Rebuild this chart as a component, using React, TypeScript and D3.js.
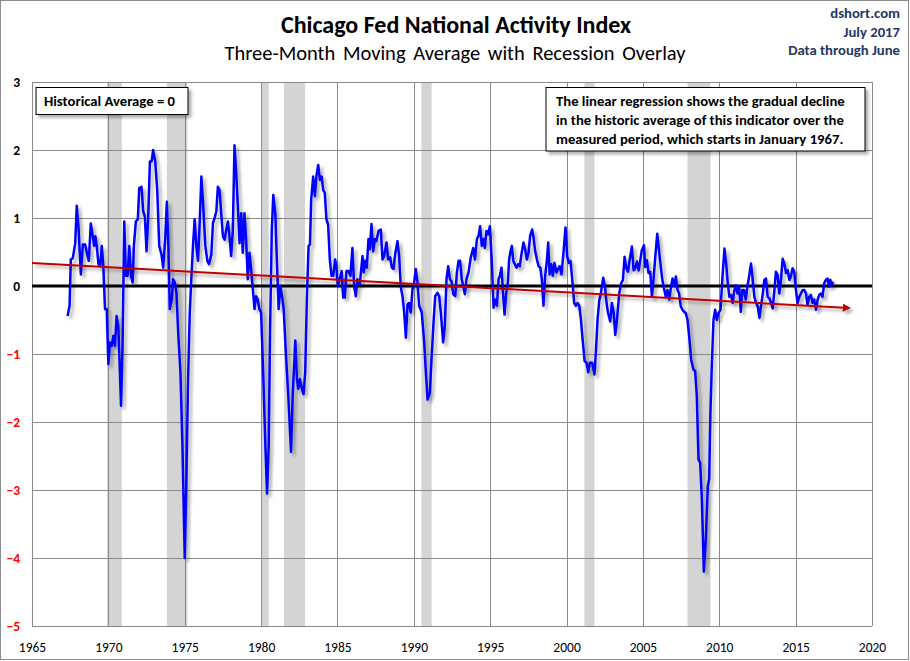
import * as d3 from "d3";
import { useEffect, useRef } from "react";

// [decimal year, 3-month moving average]
const cfnai1967to1984: [number, number][] = [
  [1967.33, -0.44], [1967.46, -0.29], [1967.54, 0.39], [1967.67, 0.41], [1967.83, 0.63],
  [1967.93, 1.18], [1968.04, 0.88], [1968.2, 0.17], [1968.33, 0.61], [1968.48, 0.61],
  [1968.59, 0.49], [1968.72, 0.37], [1968.85, 0.92], [1968.98, 0.73], [1969.07, 0.59],
  [1969.15, 0.73], [1969.24, 0.59], [1969.35, 0.32], [1969.46, 0.29], [1969.57, 0.59],
  [1969.67, 0.29], [1969.78, -0.34], [1969.89, -0.34], [1970.0, -1.15], [1970.11, -0.83],
  [1970.22, -0.88], [1970.33, -0.73], [1970.43, -0.88], [1970.54, -0.44], [1970.65, -0.59],
  [1970.72, -1.02], [1970.83, -1.76], [1970.93, -0.88], [1971.04, 0.95], [1971.15, 0.15],
  [1971.26, 0.15], [1971.37, 0.59], [1971.48, 0.15], [1971.59, 0.05], [1971.67, 0.59],
  [1971.8, 0.95], [1971.93, 0.98], [1972.02, 1.44], [1972.17, 1.46], [1972.28, 1.1],
  [1972.39, 1.02], [1972.5, 0.51], [1972.61, 1.02], [1972.72, 1.83], [1972.83, 1.83],
  [1972.93, 2.0], [1973.07, 1.83], [1973.2, 1.41], [1973.33, 0.59], [1973.48, 0.46],
  [1973.59, 0.27], [1973.72, 0.68], [1973.83, 1.24], [1973.93, 0.59], [1974.02, -0.34],
  [1974.15, -0.2], [1974.24, 0.1], [1974.35, 0.05], [1974.46, -0.1], [1974.57, -0.68],
  [1974.72, -1.27], [1974.85, -2.34], [1975.0, -4.0], [1975.11, -2.83], [1975.22, -1.37],
  [1975.33, -0.39], [1975.43, 0.1], [1975.54, 0.59], [1975.65, 0.98], [1975.76, 0.59],
  [1975.87, 0.37], [1975.98, 0.93], [1976.09, 1.61], [1976.2, 1.22], [1976.35, 0.59],
  [1976.48, 0.37], [1976.59, 0.32], [1976.74, 0.46], [1976.85, 0.93], [1976.96, 1.0],
  [1977.07, 1.1], [1977.17, 1.46], [1977.28, 1.41], [1977.39, 1.07], [1977.5, 0.73],
  [1977.61, 0.68], [1977.72, 0.83], [1977.83, 0.95], [1977.93, 0.73], [1978.04, 0.44],
  [1978.15, 0.83], [1978.26, 2.07], [1978.37, 1.66], [1978.48, 1.17], [1978.59, 0.63],
  [1978.7, 1.07], [1978.8, 0.49], [1978.91, 1.07], [1979.02, 0.68], [1979.13, 0.1],
  [1979.24, 0.49], [1979.35, 0.24], [1979.46, -0.05], [1979.57, -0.34], [1979.67, -0.15],
  [1979.78, -0.2], [1979.89, -0.34], [1980.0, -0.39], [1980.15, -1.37], [1980.28, -2.34],
  [1980.39, -3.05], [1980.5, -2.34], [1980.59, -0.63], [1980.7, 0.83], [1980.8, 1.34],
  [1980.93, 1.07], [1981.04, 0.34], [1981.15, -0.34], [1981.26, 0.0], [1981.37, -0.15],
  [1981.48, -0.34], [1981.63, -1.02], [1981.78, -1.61], [1981.96, -2.44], [1982.07, -1.61],
  [1982.24, -0.8], [1982.35, -1.37], [1982.43, -1.51], [1982.54, -1.37], [1982.67, -1.51],
  [1982.78, -1.59], [1982.89, -1.27], [1983.0, -0.15], [1983.11, 0.59], [1983.2, 0.61],
  [1983.28, 1.27], [1983.41, 1.61], [1983.52, 1.32], [1983.63, 1.63], [1983.74, 1.78],
  [1983.85, 1.56], [1983.96, 1.61], [1984.07, 1.41], [1984.17, 1.37], [1984.28, 0.98],
  [1984.39, 0.9], [1984.5, 0.39], [1984.61, 0.15], [1984.72, 0.15], [1984.85, 0.39],
  [1984.93, 0.29],
];

const cfnai1985to2002: [number, number][] = [
  [1985.02, 0.0], [1985.15, 0.1], [1985.28, 0.22], [1985.37, -0.17], [1985.48, -0.17],
  [1985.59, 0.22], [1985.72, 0.22], [1985.85, 0.15], [1985.98, 0.56], [1986.09, 0.0],
  [1986.2, -0.15], [1986.31, 0.1], [1986.46, 0.02], [1986.64, 0.44], [1986.72, 0.2],
  [1986.81, 0.37], [1986.92, 0.27], [1987.03, 0.69], [1987.12, 0.54], [1987.23, 0.91],
  [1987.34, 0.51], [1987.45, 0.69], [1987.55, 0.66], [1987.69, 0.81], [1987.84, 0.83],
  [1987.95, 0.39], [1988.06, 0.44], [1988.21, 0.64], [1988.32, 0.39], [1988.45, 0.42],
  [1988.56, 0.27], [1988.67, 0.25], [1988.78, 0.47], [1988.93, 0.66], [1989.04, 0.44],
  [1989.15, -0.02], [1989.26, -0.15], [1989.37, -0.39], [1989.48, -0.76], [1989.59, -0.27],
  [1989.69, -0.25], [1989.8, -0.39], [1989.91, -0.05], [1990.02, 0.05], [1990.13, 0.25],
  [1990.24, 0.05], [1990.35, -0.29], [1990.52, -0.39], [1990.68, -0.83], [1990.79, -1.27],
  [1990.9, -1.67], [1991.05, -1.57], [1991.16, -1.08], [1991.29, -0.54], [1991.4, -0.15],
  [1991.55, -0.1], [1991.66, -0.15], [1991.77, -0.39], [1991.92, -0.83], [1992.03, -0.59],
  [1992.14, 0.1], [1992.25, 0.29], [1992.36, 0.1], [1992.47, 0.07], [1992.58, -0.12],
  [1992.71, -0.15], [1992.82, 0.2], [1992.93, 0.37], [1993.03, 0.37], [1993.14, 0.1],
  [1993.25, -0.02], [1993.34, -0.12], [1993.45, 0.1], [1993.58, 0.2], [1993.73, 0.42],
  [1993.89, 0.56], [1994.0, 0.39], [1994.13, 0.69], [1994.24, 0.74], [1994.34, 0.88],
  [1994.45, 0.59], [1994.56, 0.69], [1994.65, 0.56], [1994.76, 0.81], [1994.87, 0.76],
  [1994.98, 0.88], [1995.11, 0.34], [1995.22, -0.32], [1995.33, -0.2], [1995.44, -0.29],
  [1995.55, 0.1], [1995.63, 0.15], [1995.74, 0.27], [1995.83, -0.07], [1995.94, -0.42],
  [1996.05, -0.1], [1996.16, 0.05], [1996.24, 0.39], [1996.33, 0.51], [1996.42, 0.59],
  [1996.51, 0.37], [1996.62, 0.32], [1996.72, 0.27], [1996.83, 0.32], [1996.94, 0.29],
  [1997.05, 0.47], [1997.18, 0.64], [1997.29, 0.54], [1997.4, 0.39], [1997.51, 0.49],
  [1997.62, 0.74], [1997.75, 0.83], [1997.84, 0.71], [1997.95, 0.51], [1998.06, 0.39],
  [1998.17, 0.29], [1998.28, 0.27], [1998.38, 0.1], [1998.49, -0.29], [1998.6, 0.15],
  [1998.71, 0.37], [1998.8, 0.64], [1998.89, 0.17], [1999.0, 0.32], [1999.1, 0.15],
  [1999.21, 0.34], [1999.34, 0.2], [1999.45, 0.25], [1999.56, 0.29], [1999.67, 0.17],
  [1999.78, 0.44], [1999.93, 0.86], [2000.04, 0.44], [2000.15, 0.34], [2000.26, 0.37],
  [2000.39, 0.05], [2000.5, -0.25], [2000.61, -0.29], [2000.72, -0.25], [2000.83, -0.29],
  [2000.94, -0.49], [2001.05, -0.78], [2001.18, -1.1], [2001.31, -1.13], [2001.42, -1.27],
  [2001.53, -1.13], [2001.68, -1.13], [2001.83, -1.3], [2001.92, -0.98], [2002.03, -0.49],
  [2002.14, -0.22], [2002.25, -0.1], [2002.4, 0.12], [2002.51, 0.0], [2002.62, -0.25],
  [2002.71, -0.39],
];

const cfnai2003to2017: [number, number][] = [
  [2002.86, -0.52], [2002.97, -0.25], [2003.08, -0.38], [2003.19, -0.72], [2003.3, -0.5],
  [2003.45, -0.11], [2003.58, 0.04], [2003.69, 0.09], [2003.8, 0.43], [2003.91, 0.26],
  [2004.02, 0.21], [2004.13, 0.38], [2004.28, 0.58], [2004.39, 0.23], [2004.5, 0.26],
  [2004.61, 0.36], [2004.72, 0.23], [2004.83, 0.38], [2004.93, 0.53], [2005.07, 0.6],
  [2005.15, 0.28], [2005.26, 0.38], [2005.37, 0.19], [2005.48, 0.21], [2005.59, -0.16],
  [2005.7, 0.11], [2005.81, 0.43], [2005.94, 0.77], [2006.05, 0.53], [2006.15, 0.33],
  [2006.26, 0.11], [2006.37, -0.03], [2006.5, -0.16], [2006.61, -0.06], [2006.72, -0.2],
  [2006.83, -0.03], [2006.94, 0.11], [2007.05, 0.0], [2007.16, 0.14], [2007.27, -0.06],
  [2007.37, -0.11], [2007.48, -0.3], [2007.59, -0.35], [2007.7, -0.38], [2007.81, -0.4],
  [2007.92, -0.5], [2008.03, -0.74], [2008.16, -1.08], [2008.31, -1.23], [2008.42, -1.25],
  [2008.53, -1.62], [2008.64, -2.55], [2008.75, -2.6], [2008.86, -3.13], [2008.99, -4.2],
  [2009.12, -3.72], [2009.25, -2.94], [2009.34, -2.84], [2009.42, -1.86], [2009.51, -1.18],
  [2009.62, -0.5], [2009.73, -0.35], [2009.84, -0.5], [2009.95, -0.4], [2010.08, -0.35],
  [2010.21, 0.14], [2010.34, 0.55], [2010.45, 0.33], [2010.56, 0.04], [2010.66, -0.16],
  [2010.77, -0.13], [2010.88, -0.25], [2010.99, -0.06], [2011.08, 0.01], [2011.19, -0.11],
  [2011.3, -0.01], [2011.41, -0.38], [2011.51, -0.06], [2011.62, -0.06], [2011.73, -0.2],
  [2011.84, -0.01], [2011.95, 0.14], [2012.08, 0.33], [2012.19, 0.09], [2012.3, -0.16],
  [2012.41, -0.25], [2012.52, -0.3], [2012.63, -0.47], [2012.73, -0.3], [2012.84, -0.13],
  [2012.95, 0.09], [2013.06, 0.11], [2013.17, -0.16], [2013.28, -0.18], [2013.39, -0.25],
  [2013.5, -0.33], [2013.61, -0.06], [2013.71, 0.21], [2013.82, 0.16], [2013.93, -0.11],
  [2014.04, 0.09], [2014.15, 0.4], [2014.26, 0.33], [2014.37, 0.19], [2014.48, 0.23],
  [2014.59, 0.09], [2014.69, 0.14], [2014.8, 0.26], [2014.91, 0.21], [2015.02, -0.06],
  [2015.13, -0.25], [2015.24, -0.16], [2015.35, -0.11], [2015.46, -0.06], [2015.57, -0.06],
  [2015.68, -0.11], [2015.78, -0.28], [2015.89, -0.16], [2016.0, -0.13], [2016.11, -0.25],
  [2016.22, -0.2], [2016.33, -0.35], [2016.44, -0.2], [2016.55, -0.13], [2016.66, -0.11],
  [2016.76, -0.16], [2016.87, 0.04], [2016.98, 0.09], [2017.09, 0.11], [2017.18, -0.01],
  [2017.27, 0.09], [2017.35, 0.01], [2017.46, 0.06],
];

// NBER recessions as [start, end] in decimal years
const recessions: [number, number][] = [
  [1969.92, 1970.88], [1973.83, 1975.17], [1980.0, 1980.5], [1981.5, 1982.88],
  [1990.5, 1991.17], [2001.17, 2001.83], [2007.92, 2009.42],
];

// linear regression endpoints [year, value]
const regression: [number, number][] = [[1965, 0.34], [2018.2, -0.32]];

const xTicks = [1965, 1970, 1975, 1980, 1985, 1990, 1995, 2000, 2005, 2010, 2015, 2020];
const yTicks = [3, 2, 1, 0, -1, -2, -3, -4, -5];

const titleText = "Chicago Fed National Activity Index";
const subtitleText = "Three-Month Moving Average with Recession Overlay";
const sourceLines = ["dshort.com", "July 2017", "Data through June"];
const noteLines = [
  "The linear regression shows the gradual decline",
  "in the historic average of this indicator over the",
  "measured period, which starts in January 1967.",
];

const FONT = "Carlito, Calibri, Lato, 'Open Sans', sans-serif";

export default function App() {
  const svgRef = useRef<SVGSVGElement>(null);

  useEffect(() => {
    if (!svgRef.current) return;
    const W = 910;
    const H = 661;
    const plot = { left: 32, right: 872, top: 82, bottom: 626 };

    const root = d3.select(svgRef.current);
    root.selectAll("*").remove();

    const defs = root.append("defs");
    const shadow = defs
      .append("filter")
      .attr("id", "shadow")
      .attr("x", "-5%")
      .attr("y", "-5%")
      .attr("width", "115%")
      .attr("height", "125%");
    shadow
      .append("feDropShadow")
      .attr("dx", 3)
      .attr("dy", 3)
      .attr("stdDeviation", 1.8)
      .attr("flood-color", "#000")
      .attr("flood-opacity", 0.3);

    defs
      .append("marker")
      .attr("id", "arrow")
      .attr("viewBox", "0 0 10 10")
      .attr("refX", 2)
      .attr("refY", 5)
      .attr("markerWidth", 5)
      .attr("markerHeight", 4)
      .attr("orient", "auto")
      .attr("markerUnits", "strokeWidth")
      .append("path")
      .attr("d", "M0,0 L10,5 L0,10 Z")
      .attr("fill", "#C00000");

    root.append("rect").attr("width", W).attr("height", H).attr("fill", "#fff");
    root
      .append("rect")
      .attr("x", 0.5)
      .attr("y", 0.5)
      .attr("width", 908)
      .attr("height", 659)
      .attr("fill", "none")
      .attr("stroke", "#8c8c8c");

    const x = d3.scaleLinear().domain([1965, 2020]).range([plot.left, plot.right]);
    const y = d3.scaleLinear().domain([-5, 3]).range([plot.bottom, plot.top]);

    // Recession bands
    root
      .append("g")
      .selectAll("rect")
      .data(recessions)
      .enter()
      .append("rect")
      .attr("x", (d) => x(d[0]))
      .attr("width", (d) => x(d[1]) - x(d[0]))
      .attr("y", plot.top)
      .attr("height", plot.bottom - plot.top)
      .attr("fill", "#d4d4d4");

    // Grid lines
    const grid = root.append("g").attr("stroke", "#8a8a8a").attr("stroke-width", 1);
    grid
      .selectAll(".vgrid")
      .data(xTicks)
      .enter()
      .append("line")
      .attr("x1", (d) => Math.round(x(d)) + 0.5)
      .attr("x2", (d) => Math.round(x(d)) + 0.5)
      .attr("y1", plot.top)
      .attr("y2", plot.bottom);
    grid
      .selectAll(".hgrid")
      .data(yTicks)
      .enter()
      .append("line")
      .attr("x1", plot.left)
      .attr("x2", plot.right)
      .attr("y1", (d) => Math.round(y(d)) + 0.5)
      .attr("y2", (d) => Math.round(y(d)) + 0.5);

    // Axes
    const yAxis = root
      .append("g")
      .attr("transform", `translate(${plot.left},0)`)
      .call(d3.axisLeft(y).tickValues(yTicks).tickSize(0).tickPadding(12).tickFormat(d3.format("d")));
    yAxis.select(".domain").remove();
    yAxis
      .selectAll(".tick text")
      .attr("font-family", FONT)
      .attr("font-size", "13.5px")
      .attr("font-weight", "bold")
      .attr("fill", (d: any) => (d < 0 ? "#ff0000" : "#000"));

    const xAxis = root
      .append("g")
      .attr("transform", `translate(0,${plot.bottom})`)
      .call(d3.axisBottom(x).tickValues(xTicks).tickSize(0).tickPadding(16).tickFormat(d3.format("d")));
    xAxis.select(".domain").remove();
    xAxis
      .selectAll(".tick text")
      .attr("font-family", FONT)
      .attr("font-size", "13.5px")
      .attr("fill", "#000");

    // Zero line
    root
      .append("line")
      .attr("x1", plot.left)
      .attr("x2", plot.right)
      .attr("y1", y(0))
      .attr("y2", y(0))
      .attr("stroke", "#000")
      .attr("stroke-width", 3);

    // Index line
    const series = [...cfnai1967to1984, ...cfnai1985to2002, ...cfnai2003to2017];
    const line = d3
      .line<[number, number]>()
      .x((d) => x(d[0]))
      .y((d) => y(d[1]));
    root
      .append("path")
      .datum(series)
      .attr("d", line)
      .attr("fill", "none")
      .attr("stroke", "#0000ff")
      .attr("stroke-width", 2.5)
      .attr("stroke-linejoin", "round")
      .attr("filter", "url(#shadow)");

    // Regression arrow
    root
      .append("path")
      .datum(regression)
      .attr("d", line)
      .attr("fill", "none")
      .attr("stroke", "#C00000")
      .attr("stroke-width", 2)
      .attr("marker-end", "url(#arrow)")
      .attr("filter", "url(#shadow)");

    // Titles
    root
      .append("text")
      .attr("x", 456)
      .attr("y", 33)
      .attr("text-anchor", "middle")
      .attr("font-family", FONT)
      .attr("font-weight", "bold")
      .attr("font-size", "24px")
      .attr("fill", "#000")
      .text(titleText);
    root
      .append("text")
      .attr("x", 455)
      .attr("y", 60)
      .attr("text-anchor", "middle")
      .attr("font-family", FONT)
      .attr("font-size", "20.5px")
      .attr("word-spacing", "3px")
      .attr("fill", "#000")
      .text(subtitleText);

    root
      .append("g")
      .selectAll("text")
      .data(sourceLines)
      .enter()
      .append("text")
      .attr("x", 900)
      .attr("y", (_, i) => 18 + i * 18.5)
      .attr("text-anchor", "end")
      .attr("font-family", FONT)
      .attr("font-weight", "bold")
      .attr("font-size", "14.7px")
      .attr("fill", "#1f3864")
      .text((d) => d);

    // Text boxes
    const avgBox = root.append("g");
    avgBox
      .append("rect")
      .attr("x", 36)
      .attr("y", 87.5)
      .attr("width", 152)
      .attr("height", 27)
      .attr("fill", "#fff")
      .attr("stroke", "#000")
      .attr("filter", "url(#shadow)");
    avgBox
      .append("text")
      .attr("x", 44)
      .attr("y", 106)
      .attr("font-family", FONT)
      .attr("font-weight", "bold")
      .attr("font-size", "14.7px")
      .text("Historical Average = 0");

    const noteBox = root.append("g");
    noteBox
      .append("rect")
      .attr("x", 546)
      .attr("y", 87.5)
      .attr("width", 319)
      .attr("height", 63.5)
      .attr("fill", "#fff")
      .attr("stroke", "#000")
      .attr("filter", "url(#shadow)");
    noteBox
      .selectAll("text")
      .data(noteLines)
      .enter()
      .append("text")
      .attr("x", 556)
      .attr("y", (_, i) => 106 + i * 19)
      .attr("font-family", FONT)
      .attr("font-weight", "bold")
      .attr("font-size", "14.7px")
      .text((d) => d);
  }, []);

  return (
    <div style={{ position: "absolute", left: 0, top: 0 }}>
      <svg ref={svgRef} width={910} height={661} style={{ display: "block" }} />
    </div>
  );
}
